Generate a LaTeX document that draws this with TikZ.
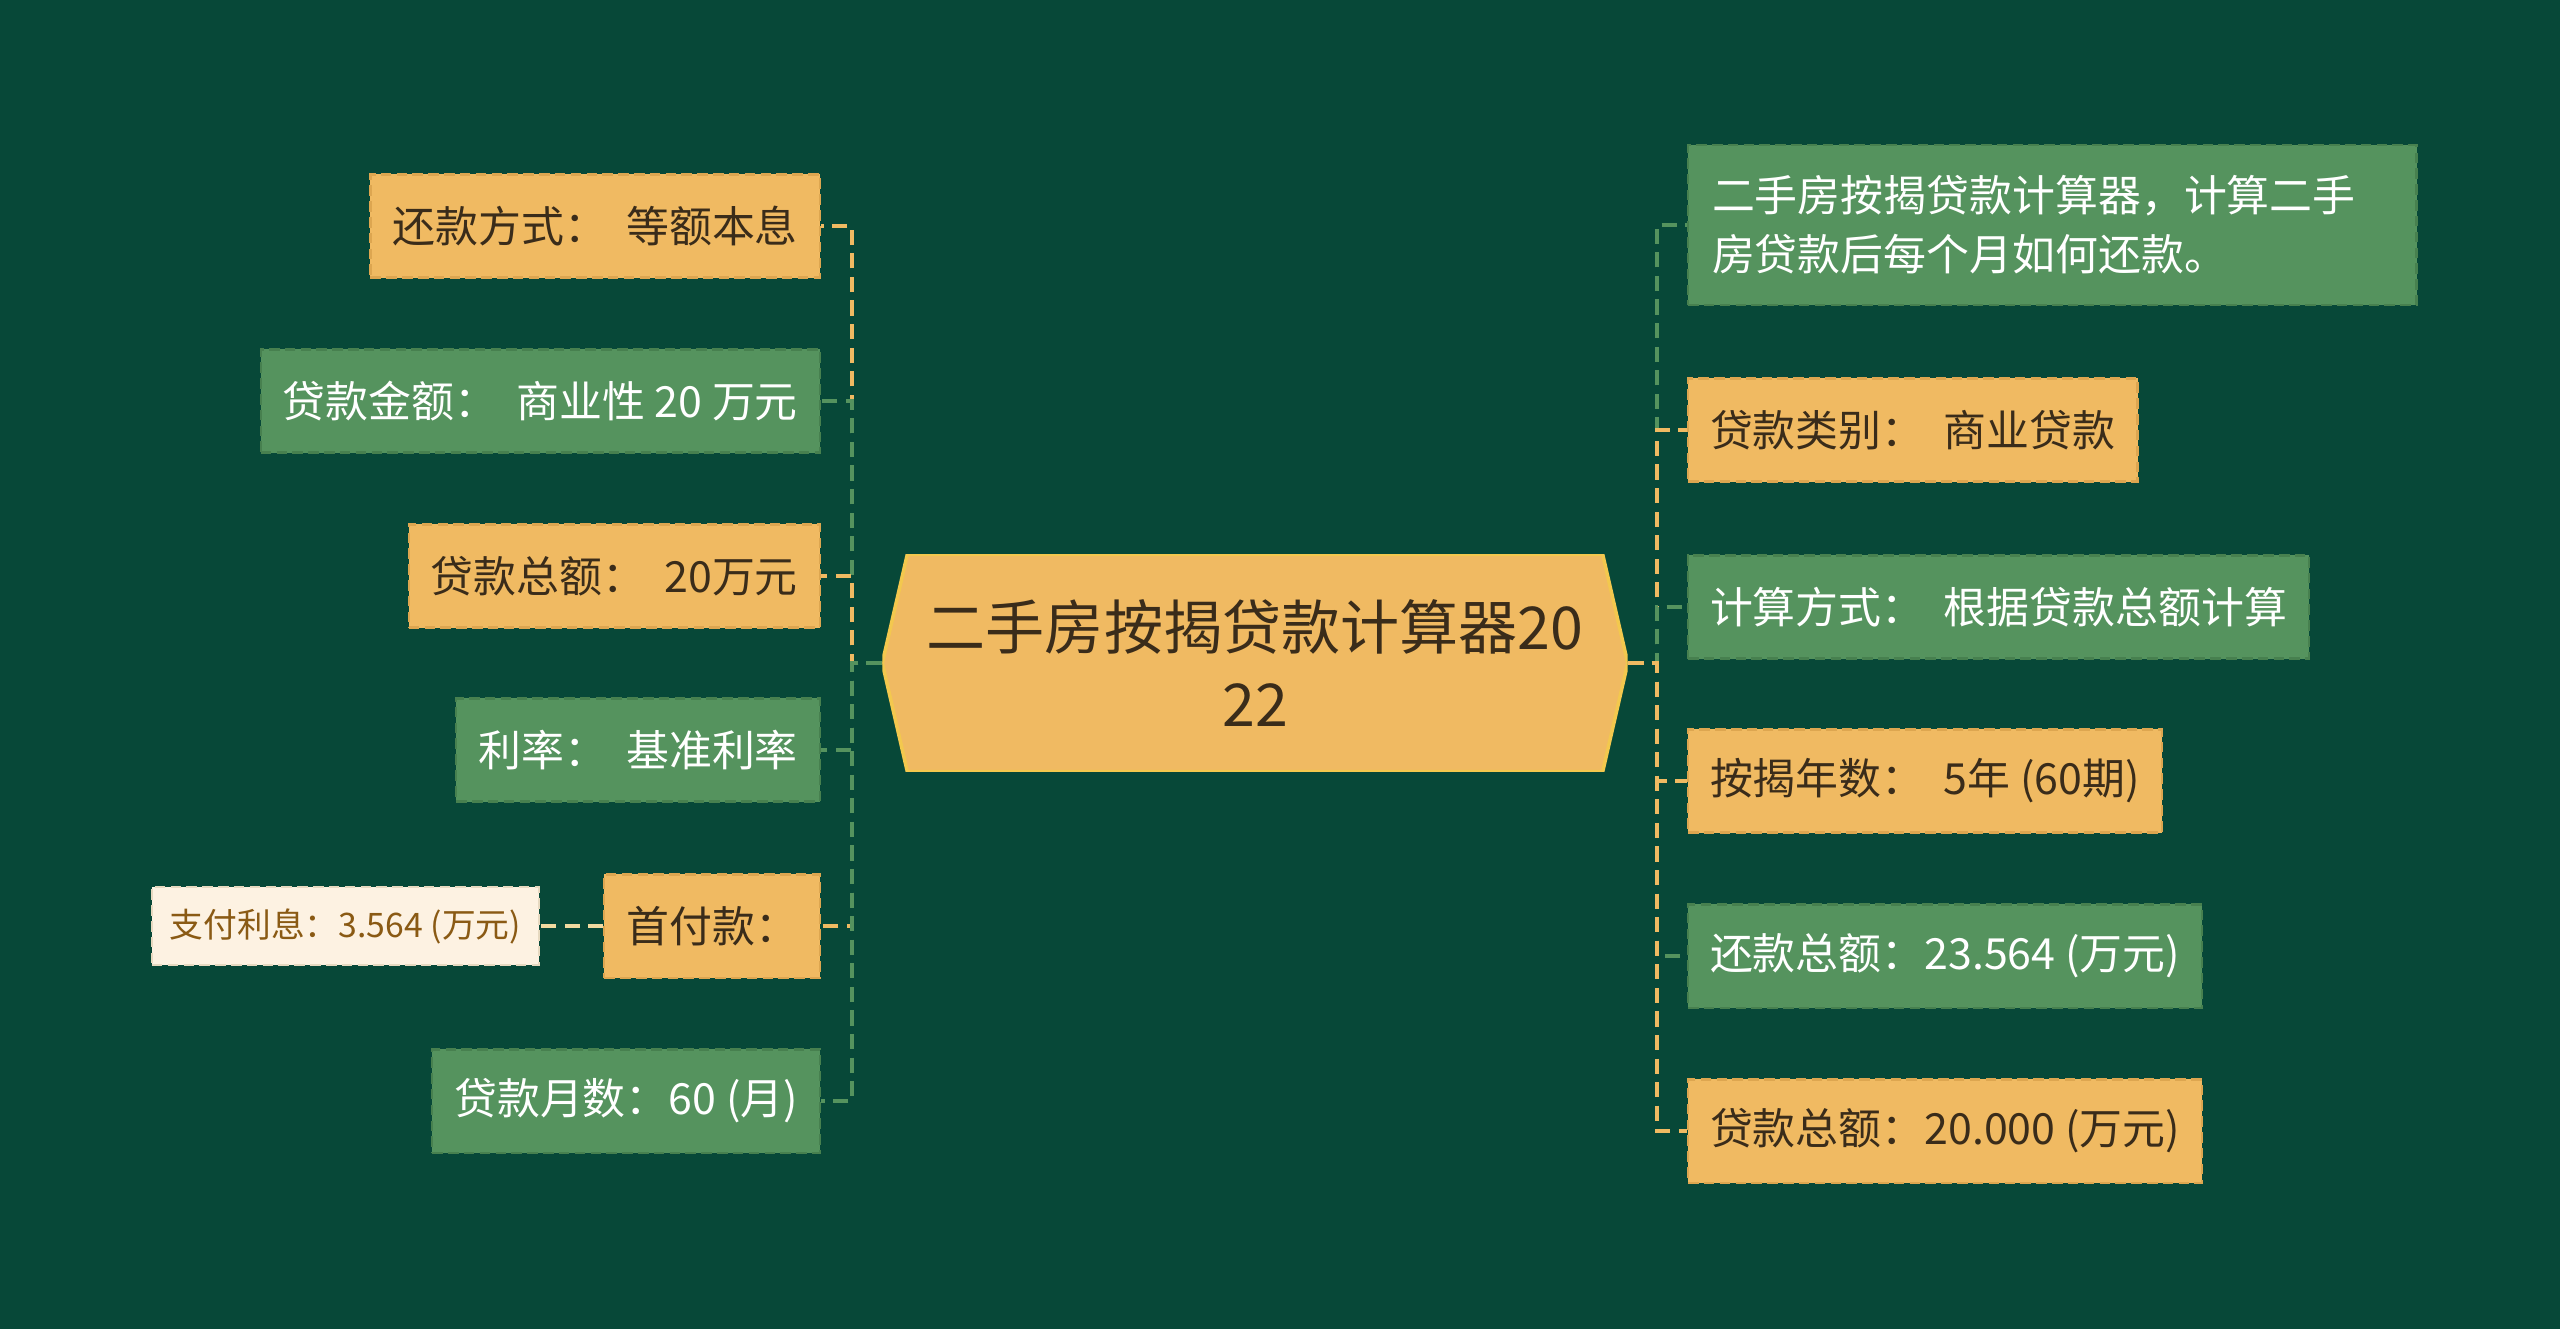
\documentclass[tikz,border=0pt]{standalone}
\usepackage{fontspec}
\setmainfont{Noto Sans CJK SC}

\definecolor{bgdark}{HTML}{074838}
\definecolor{boxorange}{HTML}{F0BA62}
\definecolor{boxgreen}{HTML}{55935E}
\definecolor{boxcream}{HTML}{FDF2E2}
\definecolor{edgeorange}{HTML}{DDA650}
\definecolor{edgegreen}{HTML}{47804F}
\definecolor{edgecream}{HTML}{E6D9C0}
\definecolor{linecream}{HTML}{F1DAA0}
\definecolor{textdark}{HTML}{3A2C1A}
\definecolor{textbrown}{HTML}{8A5A14}

\newcommand{\colgap}{\hspace{0.45em}}

\begin{document}
\begin{tikzpicture}[x=0.01cm, y=-0.01cm,
    box/.style={minimum height=1.03cm, inner xsep=0.22cm, inner ysep=0pt,
        font=\fontsize{12.2}{15}\selectfont, line width=0.6pt, dash pattern=on 3pt off 1.5pt},
    obox/.style={box, fill=boxorange, draw=edgeorange, text=textdark},
    gbox/.style={box, fill=boxgreen, draw=edgegreen, text=white},
    cbox/.style={minimum height=0.78cm, inner xsep=0.18cm, inner ysep=0pt,
        font=\fontsize{9.6}{12}\selectfont, fill=boxcream, draw=edgecream, text=textbrown,
        line width=0.6pt, dash pattern=on 3pt off 1.5pt},
    link/.style={draw=#1, line width=1.4pt, dash pattern=on 4.3pt off 2.4pt},
    hub/.style={minimum width=7.45cm, minimum height=2.17cm, align=center, fill=bgdark,
        text=textdark, font=\fontsize{16.8}{21.8}\selectfont,
        path picture={\filldraw[fill=boxorange, draw=boxorange!80!yellow, line width=1pt]
            ([xshift=0.25cm]path picture bounding box.north west)
            -- ([xshift=-0.25cm]path picture bounding box.north east)
            -- (path picture bounding box.east)
            -- ([xshift=-0.25cm]path picture bounding box.south east)
            -- ([xshift=0.25cm]path picture bounding box.south west)
            -- (path picture bounding box.west) -- cycle;}}]
    % Background
    \fill[bgdark] (0,0) rectangle (2560,1329);

    % Centre
    \node[hub] (hub) at (1255,663) {二手房按揭贷款计算器20\\22};

    % Left branches
    \node[obox, anchor=east] (repay) at (821,226) {还款方式：\colgap 等额本息};
    \node[gbox, anchor=east] (amount) at (821,401) {贷款金额：\colgap 商业性 20 万元};
    \node[obox, anchor=east] (total) at (821,576) {贷款总额：\colgap 20万元};
    \node[gbox, anchor=east] (rate) at (821,750) {利率：\colgap 基准利率};
    \node[obox, anchor=east] (down) at (821,926) {首付款：};
    \node[gbox, anchor=east] (months) at (821,1101) {贷款月数：60 (月)};
    \node[cbox, anchor=east] (interest) at (540,926) {支付利息：3.564 (万元)};

    % Right branches
    \node[gbox, anchor=west, minimum height=1.6cm, text width=6.8cm, inner xsep=0.24cm,
        align=left, font=\fontsize{12.2}{16.7}\selectfont] (about) at (1687,225)
        {二手房按揭贷款计算器，计算二手\\房贷款后每个月如何还款。};
    \node[obox, anchor=west] (kind) at (1687,430) {贷款类别：\colgap 商业贷款};
    \node[gbox, anchor=west] (method) at (1687,607) {计算方式：\colgap 根据贷款总额计算};
    \node[obox, anchor=west] (years) at (1687,781) {按揭年数：\colgap 5年 (60期)};
    \node[gbox, anchor=west] (repaid) at (1687,956) {还款总额：23.564 (万元)};
    \node[obox, anchor=west] (loan) at (1687,1131) {贷款总额：20.000 (万元)};

    % Joints
    \coordinate (lj) at (852,663);
    \coordinate (rj) at (1657,663);

    % Links
    \foreach \n/\c in {repay/boxorange, amount/boxgreen, total/boxorange,
                       rate/boxgreen, down/boxorange, months/boxgreen}
        \draw[link=\c] (hub.west) -- (lj) |- (\n.east);
    \foreach \n/\c in {about/boxgreen, kind/boxorange, method/boxgreen,
                       years/boxorange, repaid/boxgreen, loan/boxorange}
        \draw[link=\c] (hub.east) -- (rj) |- (\n.west);
    \draw[link=linecream] (down.west) -- (interest.east);
\end{tikzpicture}
\end{document}
